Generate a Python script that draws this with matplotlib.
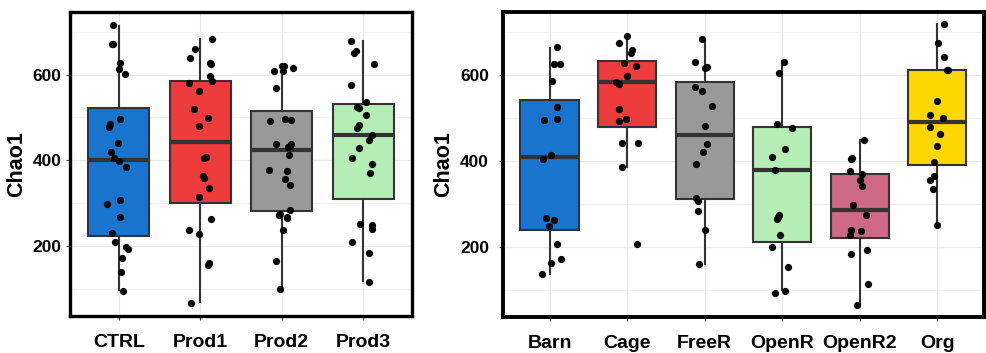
import matplotlib.pyplot as plt
import numpy as np

# ---- left panel: product groups ----
prod_groups = ["CTRL", "Prod1", "Prod2", "Prod3"]
prod_colors = ["#1874CD", "#EE3B3B", "#999999", "#B4EEB4"]
# box stats: whisker low, q1, median, q3, whisker high
prod_whislo = [96, 68, 99, 117]
prod_q1 = [224, 301, 281, 309]
prod_med = [400, 443, 423, 460]
prod_q3 = [522, 586, 514, 531]
prod_whishi = [714, 683, 618, 679]

ctrl_vals = [716, 671, 671, 626, 613, 602, 496, 485, 477, 441, 418, 404, 397, 384,
             298, 307, 268, 229, 209, 198, 192, 171, 138, 94]
ctrl_jit = [-0.07, -0.08, -0.07, 0.02, 0.0, 0.07, 0.02, -0.11, -0.12, -0.01, -0.10, -0.06, 0.0, 0.09,
            -0.14, 0.02, 0.02, -0.08, -0.05, 0.09, 0.11, 0.04, 0.03, 0.05]
prod1_vals = [684, 660, 638, 625, 627, 596, 584, 580, 561, 519, 498, 479, 405, 407,
              364, 359, 336, 313, 262, 237, 228, 160, 155, 67]
prod1_jit = [0.15, -0.06, -0.13, 0.13, 0.12, 0.12, 0.14, -0.14, -0.01, -0.08, 0.10, -0.02, 0.05, 0.07,
             0.03, 0.04, 0.11, -0.02, 0.13, -0.14, -0.01, 0.11, 0.10, -0.11]
prod2_vals = [609, 619, 619, 615, 609, 569, 491, 497, 493, 437, 437, 433, 431, 413,
              378, 375, 356, 343, 274, 272, 284, 267, 264, 237, 164, 99]
prod2_jit = [-0.10, 0.0, 0.03, 0.14, 0.01, -0.07, -0.14, 0.04, 0.11, -0.07, 0.12, 0.10, 0.08, 0.09,
             -0.15, 0.07, 0.04, 0.10, -0.02, -0.03, 0.10, 0.07, 0.06, 0.02, -0.07, -0.02]
prod3_vals = [679, 656, 650, 625, 576, 537, 524, 522, 505, 483, 476, 460, 448, 428,
              405, 392, 369, 251, 249, 239, 209, 184, 116]
prod3_jit = [-0.15, -0.09, -0.11, 0.13, -0.15, 0.04, -0.07, -0.05, 0.03, -0.05, -0.07, 0.11, 0.07, -0.05,
             -0.14, 0.11, 0.09, -0.04, 0.11, 0.11, -0.14, 0.07, 0.07]

# ---- right panel: housing systems ----
house_groups = ["Barn", "Cage", "FreeR", "OpenR", "OpenR2", "Org"]
house_colors = ["#1874CD", "#EE3B3B", "#999999", "#B4EEB4", "#CD6889", "#FFD700"]
house_whislo = [135, 386, 160, 98, 65, 250]
house_q1 = [238, 479, 310, 211, 219, 390]
house_med = [409, 582, 460, 378, 286, 489]
house_q3 = [542, 633, 583, 479, 370, 610]
house_whishi = [662, 689, 683, 631, 447, 718]

barn_vals = [664, 625, 626, 586, 525, 495, 496, 413, 404, 267, 261, 247, 205, 170, 162, 135]
barn_jit = [0.09, 0.06, 0.14, 0.03, 0.09, -0.07, 0.09, 0.02, -0.08, -0.05, 0.06, -0.01, 0.09, 0.15, 0.02, -0.10]
cage_vals = [689, 675, 658, 651, 627, 621, 598, 584, 579, 521, 493, 498, 440, 440, 386, 207]
cage_jit = [0.0, -0.11, 0.06, 0.05, -0.04, 0.11, 0.0, -0.14, -0.10, -0.11, -0.10, -0.02, -0.07, 0.14, -0.07, 0.13]
freer_vals = [683, 629, 619, 616, 571, 563, 528, 481, 439, 419, 393, 312, 306, 283, 238, 159]
freer_jit = [-0.03, -0.12, 0.03, 0.01, -0.12, -0.03, 0.09, 0.0, 0.03, -0.02, -0.11, -0.11, -0.09, -0.09, 0.01, -0.07]
openr_vals = [630, 605, 486, 475, 428, 408, 378, 273, 268, 264, 226, 198, 153, 96, 91]
openr_jit = [0.02, -0.04, -0.07, 0.12, 0.04, -0.13, -0.09, -0.04, -0.06, -0.07, -0.03, -0.13, 0.08, 0.03, -0.09]
openr2_vals = [448, 404, 405, 376, 369, 355, 342, 297, 273, 238, 226, 236, 182, 191, 112, 65]
openr2_jit = [0.06, -0.11, -0.10, -0.13, 0.03, 0.0, 0.03, -0.09, 0.08, -0.11, -0.13, 0.02, -0.11, 0.09, 0.11, -0.04]
org_vals = [719, 675, 641, 610, 612, 539, 507, 500, 478, 461, 435, 397, 364, 356, 335, 250]
org_jit = [0.09, 0.01, 0.09, 0.12, 0.14, 0.0, -0.09, 0.07, -0.09, 0.04, -0.01, -0.05, -0.05, -0.10, -0.06, -0.01]

plt.rcParams['font.family'] = ['Liberation Sans', 'DejaVu Sans']
plt.rcParams['font.weight'] = 'bold'

fig = plt.figure(figsize=(9.87, 3.53), dpi=100)
ax1 = fig.add_axes([0.0709, 0.1048, 0.3465, 0.861])
ax2 = fig.add_axes([0.5096, 0.1020, 0.4873, 0.864])


def draw_panel(ax, groups, colors, wlo, q1, med, q3, whi, vals, jits):
    stats = []
    for i in range(len(groups)):
        stats.append(dict(whislo=wlo[i], q1=q1[i], med=med[i], q3=q3[i], whishi=whi[i], fliers=[]))
    pos = np.arange(1, len(groups) + 1)
    bp = ax.bxp(stats, positions=pos, widths=0.75, patch_artist=True, showcaps=False,
                boxprops=dict(edgecolor="#333333", linewidth=1.5),
                whiskerprops=dict(color="#333333", linewidth=1.5),
                medianprops=dict(color="#333333", linewidth=3.0, solid_capstyle="butt"),
                zorder=2)
    for patch, c in zip(bp["boxes"], colors):
        patch.set_facecolor(c)
    for i in range(len(groups)):
        ax.scatter(pos[i] + np.array(jits[i]), vals[i], s=27, color="black", zorder=3, linewidths=0)

    ax.set_xlim(0.4, len(groups) + 0.6)
    ax.set_ylim(36, 746)
    ax.set_xticks(pos)
    ax.set_xticklabels(groups, fontsize=14, fontweight="bold")
    ax.set_yticks([200, 400, 600])
    ax.set_yticks([100, 300, 500, 700], minor=True)
    ax.tick_params(axis="y", labelsize=12.5, length=3, color="#555555", pad=3)
    ax.tick_params(axis="y", which="minor", length=0)
    ax.tick_params(axis="x", length=3, color="#555555", pad=10)
    ax.grid(True, which="major", color="#EBEBEB", linewidth=0.9, zorder=0)
    ax.grid(True, which="minor", axis="y", color="#F2F2F2", linewidth=0.6, zorder=0)
    ax.set_axisbelow(True)
    ax.set_ylabel("Chao1", fontsize=15.5, fontweight="bold", labelpad=4)
    for sp in ax.spines.values():
        sp.set_linewidth(2.4)
        sp.set_color("black")


draw_panel(ax1, prod_groups, prod_colors, prod_whislo, prod_q1, prod_med, prod_q3, prod_whishi,
           [ctrl_vals, prod1_vals, prod2_vals, prod3_vals],
           [ctrl_jit, prod1_jit, prod2_jit, prod3_jit])
draw_panel(ax2, house_groups, house_colors, house_whislo, house_q1, house_med, house_q3, house_whishi,
           [barn_vals, cage_vals, freer_vals, openr_vals, openr2_vals, org_vals],
           [barn_jit, cage_jit, freer_jit, openr_jit, openr2_jit, org_jit])
ax2.tick_params(axis="y", pad=7)
for sp in ax2.spines.values():
    sp.set_linewidth(2.8)

fig.savefig("out.png", dpi=100)
